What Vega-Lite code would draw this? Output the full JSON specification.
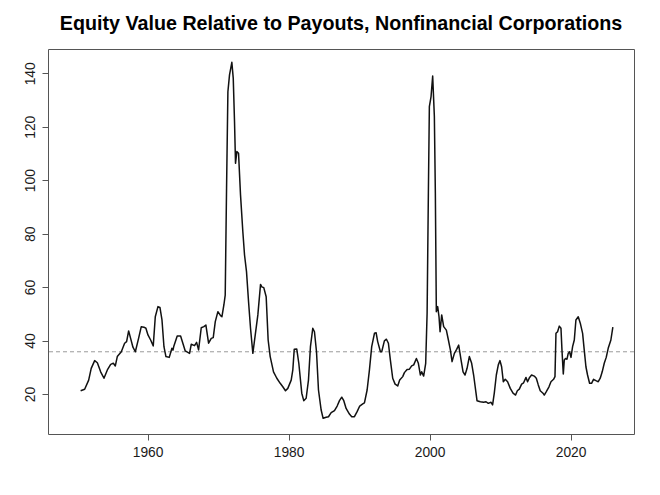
{
  "$schema": "https://vega.github.io/schema/vega-lite/v6.json",
  "autosize": {"type": "none"},
  "padding": {"left": 48, "top": 49, "right": 26, "bottom": 61},
  "width": 586,
  "height": 385,
  "background": "white",
  "config": {
    "font": "Liberation Sans",
    "view": {"stroke": "#555", "strokeWidth": 1}
  },
  "title": {
    "text": "Equity Value Relative to Payouts, Nonfinancial Corporations",
    "font": "Liberation Sans",
    "fontSize": 19.7,
    "fontWeight": "bold",
    "color": "#000",
    "anchor": "middle",
    "baseline": "alphabetic",
    "offset": 17,
    "dy": 18
  },
  "datasets": {
    "series": [
      {"year": 1950.5, "value": 21.2}, {"year": 1951.07, "value": 21.8}, {"year": 1951.64, "value": 25.2}, {"year": 1952.0, "value": 29.6},
      {"year": 1952.49, "value": 32.5}, {"year": 1952.87, "value": 31.7}, {"year": 1953.34, "value": 28.3}, {"year": 1953.81, "value": 25.9},
      {"year": 1954.29, "value": 29.0}, {"year": 1954.76, "value": 31.1}, {"year": 1955.14, "value": 31.5}, {"year": 1955.42, "value": 30.5},
      {"year": 1955.7, "value": 34.0}, {"year": 1956.27, "value": 35.8}, {"year": 1956.74, "value": 39.0}, {"year": 1957.02, "value": 39.6},
      {"year": 1957.31, "value": 43.6}, {"year": 1957.59, "value": 40.8}, {"year": 1957.92, "value": 37.5}, {"year": 1958.26, "value": 35.8},
      {"year": 1958.72, "value": 40.8}, {"year": 1959.1, "value": 45.2}, {"year": 1959.48, "value": 45.0}, {"year": 1959.76, "value": 44.6},
      {"year": 1960.05, "value": 42.1}, {"year": 1960.43, "value": 40.2}, {"year": 1960.8, "value": 38.0}, {"year": 1961.09, "value": 48.9},
      {"year": 1961.47, "value": 52.7}, {"year": 1961.75, "value": 52.4}, {"year": 1962.04, "value": 47.7}, {"year": 1962.32, "value": 37.7},
      {"year": 1962.6, "value": 34.0}, {"year": 1963.07, "value": 33.7}, {"year": 1963.45, "value": 37.1}, {"year": 1963.6, "value": 36.4},
      {"year": 1963.73, "value": 38.0}, {"year": 1964.2, "value": 41.7}, {"year": 1964.68, "value": 41.7}, {"year": 1965.0, "value": 39.0},
      {"year": 1965.34, "value": 36.1}, {"year": 1965.95, "value": 35.2}, {"year": 1966.19, "value": 38.6}, {"year": 1966.66, "value": 38.1},
      {"year": 1966.95, "value": 39.3}, {"year": 1967.23, "value": 36.5}, {"year": 1967.61, "value": 44.8}, {"year": 1967.98, "value": 45.2},
      {"year": 1968.27, "value": 45.8}, {"year": 1968.65, "value": 39.0}, {"year": 1969.03, "value": 40.8}, {"year": 1969.31, "value": 41.1},
      {"year": 1969.6, "value": 47.1}, {"year": 1969.97, "value": 50.8}, {"year": 1970.35, "value": 49.3}, {"year": 1970.54, "value": 48.9},
      {"year": 1970.82, "value": 53.3}, {"year": 1971.01, "value": 57.0}, {"year": 1971.2, "value": 97.0}, {"year": 1971.39, "value": 133.1},
      {"year": 1971.62, "value": 139.4}, {"year": 1971.95, "value": 144.1}, {"year": 1972.15, "value": 138.1}, {"year": 1972.33, "value": 121.9},
      {"year": 1972.47, "value": 106.3}, {"year": 1972.66, "value": 110.7}, {"year": 1972.9, "value": 110.1}, {"year": 1973.18, "value": 94.5},
      {"year": 1973.51, "value": 80.7}, {"year": 1973.75, "value": 72.0}, {"year": 1974.03, "value": 65.8}, {"year": 1974.32, "value": 54.5},
      {"year": 1974.6, "value": 44.6}, {"year": 1974.93, "value": 35.2}, {"year": 1975.27, "value": 42.1}, {"year": 1975.64, "value": 49.6},
      {"year": 1976.02, "value": 61.0}, {"year": 1976.2, "value": 60.1}, {"year": 1976.48, "value": 59.8}, {"year": 1976.82, "value": 56.4},
      {"year": 1977.1, "value": 40.2}, {"year": 1977.39, "value": 34.0}, {"year": 1977.86, "value": 28.3}, {"year": 1978.33, "value": 25.9},
      {"year": 1978.81, "value": 24.0}, {"year": 1979.18, "value": 22.7}, {"year": 1979.56, "value": 21.2}, {"year": 1979.89, "value": 22.1},
      {"year": 1980.37, "value": 25.2}, {"year": 1980.6, "value": 29.0}, {"year": 1980.8, "value": 36.7}, {"year": 1981.16, "value": 36.8},
      {"year": 1981.45, "value": 31.5}, {"year": 1981.87, "value": 20.3}, {"year": 1982.15, "value": 17.5}, {"year": 1982.49, "value": 18.4},
      {"year": 1982.82, "value": 25.2}, {"year": 1983.1, "value": 37.7}, {"year": 1983.43, "value": 44.6}, {"year": 1983.67, "value": 43.3},
      {"year": 1983.96, "value": 35.8}, {"year": 1984.24, "value": 21.5}, {"year": 1984.62, "value": 14.0}, {"year": 1984.9, "value": 10.9},
      {"year": 1985.33, "value": 11.3}, {"year": 1985.66, "value": 11.5}, {"year": 1986.04, "value": 13.0}, {"year": 1986.51, "value": 13.8},
      {"year": 1986.89, "value": 15.5}, {"year": 1987.22, "value": 17.5}, {"year": 1987.54, "value": 18.8}, {"year": 1987.83, "value": 17.5},
      {"year": 1988.16, "value": 14.6}, {"year": 1988.63, "value": 12.5}, {"year": 1988.96, "value": 11.5}, {"year": 1989.34, "value": 11.5},
      {"year": 1989.72, "value": 13.4}, {"year": 1990.09, "value": 15.5}, {"year": 1990.52, "value": 16.3}, {"year": 1990.76, "value": 16.7},
      {"year": 1991.14, "value": 21.5}, {"year": 1991.47, "value": 29.0}, {"year": 1991.79, "value": 37.7}, {"year": 1992.18, "value": 42.7},
      {"year": 1992.42, "value": 42.9}, {"year": 1992.64, "value": 39.6}, {"year": 1993.03, "value": 35.8}, {"year": 1993.21, "value": 35.8},
      {"year": 1993.59, "value": 39.9}, {"year": 1993.88, "value": 40.5}, {"year": 1994.16, "value": 39.0}, {"year": 1994.44, "value": 32.7},
      {"year": 1994.77, "value": 25.9}, {"year": 1995.11, "value": 23.7}, {"year": 1995.48, "value": 23.0}, {"year": 1995.76, "value": 25.2},
      {"year": 1996.19, "value": 26.5}, {"year": 1996.43, "value": 28.0}, {"year": 1996.81, "value": 29.2}, {"year": 1997.14, "value": 29.3},
      {"year": 1997.46, "value": 30.5}, {"year": 1997.75, "value": 30.9}, {"year": 1998.13, "value": 33.3}, {"year": 1998.41, "value": 31.5},
      {"year": 1998.7, "value": 27.1}, {"year": 1998.88, "value": 28.3}, {"year": 1999.16, "value": 26.7}, {"year": 1999.45, "value": 31.5},
      {"year": 1999.65, "value": 50.2}, {"year": 1999.83, "value": 95.1}, {"year": 1999.97, "value": 127.5}, {"year": 2000.21, "value": 131.3},
      {"year": 2000.44, "value": 139.0}, {"year": 2000.68, "value": 123.8}, {"year": 2000.82, "value": 95.1}, {"year": 2000.96, "value": 50.8},
      {"year": 2001.15, "value": 52.7}, {"year": 2001.34, "value": 48.9}, {"year": 2001.49, "value": 43.3}, {"year": 2001.72, "value": 49.6},
      {"year": 2002.0, "value": 45.2}, {"year": 2002.38, "value": 43.9}, {"year": 2002.67, "value": 40.2}, {"year": 2002.95, "value": 36.5},
      {"year": 2003.19, "value": 32.1}, {"year": 2003.52, "value": 35.2}, {"year": 2003.84, "value": 36.7}, {"year": 2004.13, "value": 38.3},
      {"year": 2004.47, "value": 32.7}, {"year": 2004.75, "value": 28.3}, {"year": 2005.03, "value": 27.1}, {"year": 2005.32, "value": 29.6},
      {"year": 2005.64, "value": 34.0}, {"year": 2005.97, "value": 31.5}, {"year": 2006.25, "value": 27.1}, {"year": 2006.59, "value": 20.3},
      {"year": 2006.73, "value": 17.5}, {"year": 2007.2, "value": 17.1}, {"year": 2007.67, "value": 16.9}, {"year": 2008.01, "value": 17.1},
      {"year": 2008.33, "value": 16.5}, {"year": 2008.72, "value": 16.9}, {"year": 2008.94, "value": 15.9}, {"year": 2009.18, "value": 20.3},
      {"year": 2009.47, "value": 27.1}, {"year": 2009.75, "value": 30.9}, {"year": 2009.99, "value": 32.5}, {"year": 2010.22, "value": 30.2},
      {"year": 2010.46, "value": 24.6}, {"year": 2010.74, "value": 25.5}, {"year": 2011.07, "value": 24.6}, {"year": 2011.45, "value": 22.1},
      {"year": 2011.84, "value": 20.3}, {"year": 2012.2, "value": 19.6}, {"year": 2012.45, "value": 21.2}, {"year": 2012.73, "value": 21.8},
      {"year": 2013.06, "value": 23.7}, {"year": 2013.34, "value": 24.2}, {"year": 2013.68, "value": 26.2}, {"year": 2013.9, "value": 24.6},
      {"year": 2014.19, "value": 26.2}, {"year": 2014.47, "value": 27.1}, {"year": 2014.85, "value": 26.7}, {"year": 2015.14, "value": 25.9},
      {"year": 2015.42, "value": 23.4}, {"year": 2015.7, "value": 21.2}, {"year": 2016.09, "value": 20.3}, {"year": 2016.27, "value": 19.6},
      {"year": 2016.56, "value": 20.9}, {"year": 2016.94, "value": 22.7}, {"year": 2017.22, "value": 24.6}, {"year": 2017.59, "value": 25.5},
      {"year": 2017.79, "value": 26.5}, {"year": 2017.93, "value": 42.7}, {"year": 2018.16, "value": 43.3}, {"year": 2018.4, "value": 45.4},
      {"year": 2018.64, "value": 44.6}, {"year": 2018.78, "value": 36.5}, {"year": 2018.97, "value": 27.5}, {"year": 2019.11, "value": 32.7},
      {"year": 2019.29, "value": 33.3}, {"year": 2019.49, "value": 33.0}, {"year": 2019.67, "value": 35.2}, {"year": 2019.86, "value": 35.8},
      {"year": 2020.06, "value": 33.7}, {"year": 2020.29, "value": 37.7}, {"year": 2020.53, "value": 40.2}, {"year": 2020.76, "value": 47.7},
      {"year": 2021.09, "value": 48.9}, {"year": 2021.38, "value": 46.5}, {"year": 2021.71, "value": 42.7}, {"year": 2021.94, "value": 36.5},
      {"year": 2022.18, "value": 30.2}, {"year": 2022.41, "value": 27.1}, {"year": 2022.7, "value": 24.0}, {"year": 2022.98, "value": 24.0},
      {"year": 2023.26, "value": 25.5}, {"year": 2023.6, "value": 25.0}, {"year": 2023.93, "value": 24.6}, {"year": 2024.21, "value": 25.9},
      {"year": 2024.49, "value": 28.3}, {"year": 2024.78, "value": 31.5}, {"year": 2025.06, "value": 33.7}, {"year": 2025.34, "value": 37.1},
      {"year": 2025.72, "value": 40.2}, {"year": 2026.0, "value": 45.0}
    ],
    "average": [{"mean": 35.8}]
  },
  "layer": [
    {
      "data": {"name": "average"},
      "mark": {"type": "rule", "stroke": "#9a9a9a", "strokeWidth": 1, "strokeDash": [4, 3]},
      "encoding": {
        "y": {"field": "mean", "type": "quantitative", "scale": {"domain": [5.03, 149.09], "nice": false, "zero": false}}
      }
    },
    {
      "data": {"name": "series"},
      "mark": {"type": "line", "stroke": "#111", "strokeWidth": 1.5, "strokeJoin": "round"},
      "encoding": {
        "x": {
          "field": "year", "type": "quantitative",
          "scale": {"domain": [1945.87, 2029.0], "nice": false, "zero": false},
          "axis": {
            "title": null, "values": [1960, 1980, 2000, 2020], "format": "d",
            "grid": false, "domain": false, "tickColor": "#555", "tickSize": 6,
            "labelPadding": 5, "labelFontSize": 13.8, "labelColor": "#1a1a1a", "labelFont": "Liberation Sans"
          }
        },
        "y": {
          "field": "value", "type": "quantitative",
          "scale": {"domain": [5.03, 149.09], "nice": false, "zero": false},
          "axis": {
            "title": null, "values": [20, 40, 60, 80, 100, 120, 140],
            "grid": false, "domain": false, "tickColor": "#555", "tickSize": 6,
            "labelAngle": -90, "labelAlign": "center", "labelBaseline": "alphabetic",
            "labelPadding": 8, "labelFontSize": 13.8, "labelColor": "#1a1a1a", "labelFont": "Liberation Sans"
          }
        }
      }
    }
  ]
}
